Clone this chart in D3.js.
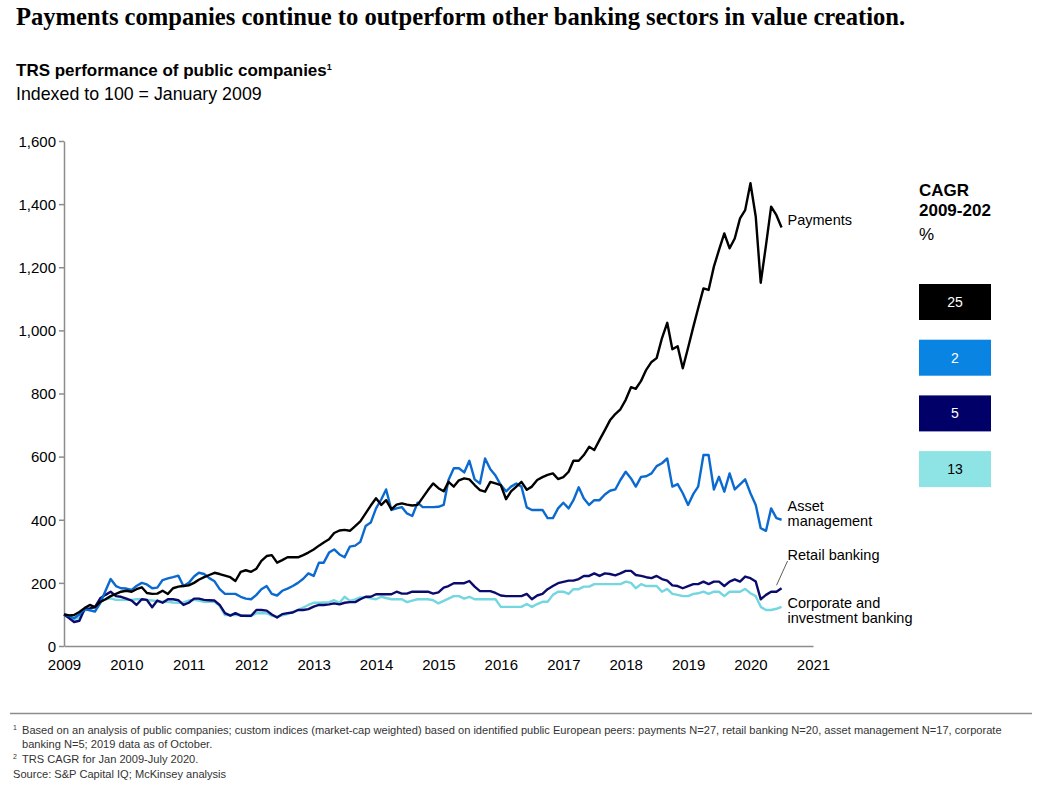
<!DOCTYPE html>
<html>
<head>
<meta charset="utf-8">
<script src="https://cdn.jsdelivr.net/npm/d3@7"></script>
<style>
  body { margin: 0; background: #fff; }
  svg text { font-family: "Liberation Sans", Arial, sans-serif; }
  .title { font-family: "Liberation Serif", "DejaVu Serif", serif !important; font-weight: bold; }
  .axis .domain { stroke: #8c8c8c; stroke-width: 1.5; }
  .axis .tick line { stroke: #8c8c8c; stroke-width: 1.5; }
  .axis .tick text { fill: #000; font-size: 15px; }
  .series { fill: none; stroke-width: 2.4; stroke-linejoin: round; }
  .foot { font-size: 11.1px; fill: #333; }
</style>
</head>
<body>
<div id="chart"></div>
<script>
// monthly TRS index, Jan 2009 - Jul 2020 (100 = Jan 2009)
var months = d3.timeMonth.range(new Date(2009, 0, 1), new Date(2020, 7, 1));

var payments = [
  100, 97, 98, 108, 120, 130, 123, 140, 148, 158,
  165, 172, 175, 172, 180, 186, 168, 165, 166, 175,
  165, 183, 188, 190, 192, 200, 210, 218, 225, 232,
  228, 223, 218, 206, 235, 240, 235, 245, 270, 285,
  288, 264, 272, 281, 281, 281, 288, 296, 306, 318,
  328, 338, 358, 366, 368, 365, 380, 395, 420, 445,
  468, 447, 462, 433, 448, 452, 448, 445, 447, 470,
  494, 515, 500, 490, 520, 505, 525, 531, 528, 510,
  494, 489, 520, 515, 510, 465, 490, 505, 520, 495,
  505, 526, 535, 542, 547, 529, 535, 552, 587, 587,
  605, 631, 621, 653, 684, 715, 735, 750, 780, 820,
  815, 840, 875, 900, 912, 975, 1024, 940, 950, 880,
  945, 1012, 1070, 1133, 1128, 1202, 1255, 1307, 1260, 1291,
  1355, 1381, 1466, 1360, 1151, 1270, 1392, 1365, 1326
];
var assetManagement = [
  100, 95, 88, 100, 117, 113, 109, 136, 175, 212,
  190, 183, 182, 178, 190, 200, 195, 183, 185, 209,
  214, 218, 223, 190, 200, 220, 232, 228, 215, 205,
  180, 165, 165, 165, 156, 150, 148, 162, 180, 190,
  165, 160, 175, 182, 190, 200, 213, 230, 222, 264,
  264, 296, 306, 290, 281, 315, 318, 330, 380, 391,
  436, 465, 496, 431, 436, 440, 420, 412, 454, 440,
  440, 440, 441, 447, 526, 563, 563, 550, 587, 528,
  515, 594, 560, 540, 510, 490, 505, 515, 505, 439,
  431, 431, 431, 405, 405, 436, 454, 436, 462, 503,
  467, 447, 462, 462, 480, 492, 496, 526, 552, 531,
  505, 536, 538, 547, 570, 579, 594, 505, 513, 484,
  447, 482, 505, 605, 605, 496, 536, 489, 547, 496,
  512, 528, 484, 447, 373, 365, 436, 405, 400
];
var retailBanking = [
  100, 88, 76, 80, 117, 119, 123, 151, 162, 172,
  158, 156, 150, 144, 130, 148, 146, 123, 144, 137,
  148, 148, 145, 130, 137, 150, 150, 146, 145, 144,
  130, 104, 96, 104, 96, 96, 96, 114, 114, 112,
  100, 90, 101, 104, 106, 114, 114, 117, 125, 130,
  130, 132, 135, 132, 137, 139, 139, 148, 156, 156,
  164, 164, 164, 164, 172, 166, 166, 172, 172, 172,
  172, 166, 170, 185, 190, 199, 199, 199, 206, 188,
  174, 174, 174, 168, 160, 158, 158, 158, 158, 165,
  148, 160, 165, 180, 190, 199, 203, 207, 207, 212,
  222, 222, 230, 222, 230, 228, 224, 230, 238, 238,
  225, 222, 218, 215, 222, 212, 207, 192, 190, 183,
  190, 196, 196, 204, 196, 204, 204, 190, 204, 211,
  204, 220, 215, 204, 148, 162, 172, 172, 183
];
var corporateBanking = [
  100, 92, 85, 90, 112, 118, 121, 140, 148, 151,
  146, 146, 146, 146, 148, 148, 146, 144, 142, 140,
  140, 138, 137, 138, 144, 146, 144, 140, 140, 140,
  127, 98, 98, 98, 98, 95, 95, 104, 104, 104,
  96, 93, 97, 101, 108, 114, 122, 130, 137, 137,
  138, 139, 145, 137, 156, 143, 148, 154, 154, 151,
  148, 156, 152, 148, 148, 148, 139, 144, 148, 148,
  148, 145, 135, 143, 150, 158, 158, 150, 156, 148,
  148, 148, 148, 148, 124, 124, 124, 124, 124, 133,
  124, 133, 140, 140, 162, 172, 172, 165, 180, 180,
  188, 188, 196, 196, 196, 196, 196, 196, 204, 200,
  183, 196, 190, 190, 190, 172, 181, 165, 162, 158,
  158, 165, 167, 172, 165, 172, 172, 158, 172, 172,
  172, 181, 167, 158, 124, 114, 114, 118, 124
];

var seriesNames = ["Payments", "Asset management", "Retail banking", "Corporate and investment banking"];
var cagr = [25, 2, 5, 13];
var yTicks = [0, 200, 400, 600, 800, 1000, 1200, 1400, 1600];

var lineColors = ["#000000", "#0a6ad0", "#0b0b6e", "#74d6df"];
var boxColors = ["#000000", "#0a84e2", "#000068", "#8ee4e4"];
var boxText = ["#fff", "#fff", "#fff", "#000"];

var W = 1059, H = 787;
var mLeft = 64, mTop = 141, plotRight = 813, plotBottom = 646;

var svg = d3.select("#chart").append("svg")
    .attr("width", W)
    .attr("height", H);

// titles
svg.append("text")
    .attr("class", "title")
    .attr("x", 16).attr("y", 25)
    .style("font-size", "24.6px")
    .text("Payments companies continue to outperform other banking sectors in value creation.");

var sub = svg.append("text")
    .attr("x", 16).attr("y", 76)
    .style("font-size", "17px").style("font-weight", "bold");
sub.append("tspan").text("TRS performance of public companies");
sub.append("tspan").attr("dy", -6).style("font-size", "9px").text("1");

svg.append("text")
    .attr("x", 16).attr("y", 100)
    .style("font-size", "17.8px")
    .text("Indexed to 100 = January 2009");

// scales
var x = d3.scaleTime()
    .domain([new Date(2009, 0, 1), new Date(2021, 0, 1)])
    .range([mLeft, plotRight]);
var y = d3.scaleLinear()
    .domain([0, 1600])
    .range([plotBottom, mTop]);

var yAxis = d3.axisLeft(y).tickValues(yTicks).tickSize(5).tickPadding(3).tickSizeOuter(0)
    .tickFormat(d3.format(","));
var xAxis = d3.axisBottom(x).ticks(d3.timeYear.every(1)).tickSize(0).tickPadding(13)
    .tickFormat(d3.timeFormat("%Y"));

svg.append("g")
    .attr("class", "axis")
    .attr("transform", "translate(" + mLeft + ",0)")
    .call(yAxis)
    .selectAll(".tick text").attr("dy", "0.35em");

svg.append("g")
    .attr("class", "axis")
    .attr("transform", "translate(0," + plotBottom + ")")
    .call(xAxis);

// lines
var allSeries = [payments, assetManagement, retailBanking, corporateBanking];
var line = d3.line()
    .x(function(d, i) { return x(months[i]); })
    .y(function(d) { return y(d); });

// draw back to front so payments sits on top
[3, 2, 1, 0].forEach(function(k) {
    svg.append("path")
        .datum(allSeries[k])
        .attr("class", "series")
        .attr("stroke", lineColors[k])
        .attr("d", line);
});

// end labels
var lastX = x(months[months.length - 1]);
var labelX = lastX + 6;
var labels = [
    { lines: ["Payments"], y: y(payments[payments.length - 1]) - 8 },
    { lines: ["Asset", "management"], y: 506 },
    { lines: ["Retail banking"], y: 555 },
    { lines: ["Corporate and", "investment banking"], y: 603 }
];
labels.forEach(function(l) {
    var t = svg.append("text")
        .attr("x", labelX).attr("y", l.y)
        .attr("dy", "0.35em")
        .style("font-size", "14.5px");
    l.lines.forEach(function(s, j) {
        t.append("tspan").attr("x", labelX).attr("dy", j === 0 ? "0.35em" : "1.05em").text(s);
    });
});

// leader for retail banking
svg.append("line")
    .attr("x1", labelX).attr("y1", 561)
    .attr("x2", lastX - 5).attr("y2", y(retailBanking[retailBanking.length - 1]) - 3)
    .attr("stroke", "#333").attr("stroke-width", 0.8);

// CAGR legend
var lg = svg.append("g").attr("transform", "translate(919,0)");
lg.append("text").attr("y", 196).style("font-size", "17px").style("font-weight", "bold").text("CAGR");
lg.append("text").attr("y", 216).style("font-size", "17px").style("font-weight", "bold").text("2009-202");
lg.append("text").attr("y", 240).style("font-size", "17px").text("%");

var box = lg.selectAll(".cagr")
    .data(cagr)
    .enter()
    .append("g")
    .attr("class", "cagr")
    .attr("transform", function(d, i) { return "translate(0," + (284 + i * 55.7) + ")"; });
box.append("rect")
    .attr("width", 72).attr("height", 36)
    .attr("fill", function(d, i) { return boxColors[i]; });
box.append("text")
    .attr("x", 36).attr("y", 18).attr("dy", "0.35em")
    .attr("text-anchor", "middle")
    .style("font-size", "14px")
    .attr("fill", function(d, i) { return boxText[i]; })
    .text(function(d) { return d; });

// footnotes
svg.append("line")
    .attr("x1", 10).attr("x2", 1032)
    .attr("y1", 713.5).attr("y2", 713.5)
    .attr("stroke", "#8c8c8c").attr("stroke-width", 1.5);

var foot = [
    { x: 22, y: 734, t: "Based on an analysis of public companies; custom indices (market-cap weighted) based on identified public European peers: payments N=27, retail banking N=20, asset management N=17, corporate" },
    { x: 22, y: 748, t: "banking N=5; 2019 data as of October." },
    { x: 22, y: 763, t: "TRS CAGR for Jan 2009-July 2020." },
    { x: 13, y: 778, t: "Source: S&P Capital IQ; McKinsey analysis" }
];
foot.forEach(function(f) {
    svg.append("text").attr("class", "foot").attr("x", f.x).attr("y", f.y).text(f.t);
});
svg.append("text").attr("class", "foot").attr("x", 13).attr("y", 730).style("font-size", "7px").text("1");
svg.append("text").attr("class", "foot").attr("x", 13).attr("y", 759).style("font-size", "7px").text("2");
</script>
</body>
</html>
